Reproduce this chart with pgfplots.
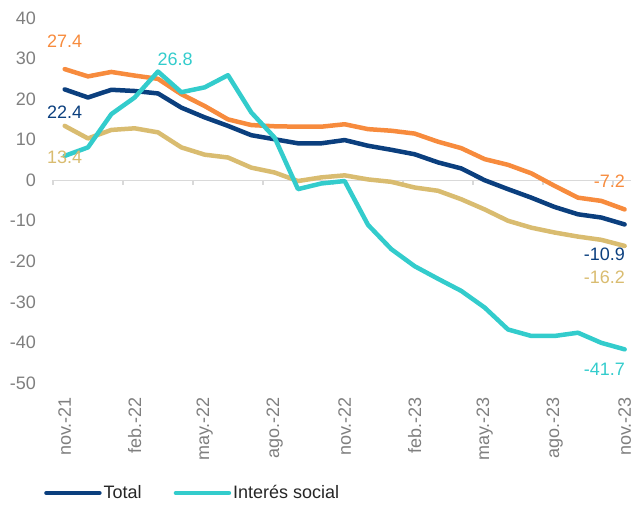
\documentclass[border=0pt]{standalone}
\usepackage{pgfplots}
\pgfplotsset{compat=1.18}
\usepackage{fontspec}
\setmainfont{Liberation Sans}
\definecolor{cnavy}{HTML}{0B3F7E}
\definecolor{cteal}{HTML}{33CCCC}
\definecolor{corange}{HTML}{F78B3D}
\definecolor{ctan}{HTML}{D9BC70}
\definecolor{ctick}{HTML}{7F7F7F}
\definecolor{czero}{HTML}{D9D9D9}
\begin{document}
\begin{tikzpicture}[font=\fontsize{18bp}{21bp}\selectfont]
\path[use as bounding box] (-53bp,-123bp) rectangle (578bp,383bp);
\begin{axis}[
  scale only axis, width=583.3bp, height=365bp,
  at={(0,0)}, anchor=south west,
  xmin=-0.5, xmax=24.5, ymin=-50, ymax=40,
  clip=false,
  axis line style={draw=none},
  major tick length=0pt,
  xtick pos=bottom, ytick pos=left,
  xtick={0,3,...,24},
  xticklabels={nov.-21,feb.-22,may.-22,ago.-22,nov.-22,feb.-23,may.-23,ago.-23,nov.-23},
  ytick={-50,-40,...,40},
  /pgf/number format/assume math mode=true,
  tick label style={font=\fontsize{18bp}{21bp}\selectfont, text=ctick, inner sep=0pt},
  yticklabel style={anchor=east},
  xticklabel style={rotate=90, anchor=east},
  yticklabel shift=17bp,
  xticklabel shift=14bp,
  legend columns=2,
  legend style={at={(0,0)}, anchor=west, xshift=-9bp, yshift=-110bp,
    draw=none, fill=none, inner sep=0pt,
    font=\fontsize{18bp}{21bp}\selectfont, text=black!85,
    nodes={inner sep=2bp},
    /tikz/every even column/.append style={column sep=30bp}},
  legend image code/.code={\draw[#1, line width=4.5bp] (0bp,0bp) -- (53bp,0bp);},
  every axis plot/.append style={line width=4.5bp, line join=round, line cap=round, no markers},
]
\draw[czero, line width=1.3bp] (axis cs:-0.5,0) -- (axis cs:24.5,0);
\pgfplotsinvokeforeach{-0.5,2.5,5.5,8.5,11.5,14.5,17.5,20.5,23.5}{
  \draw[czero, line width=1.3bp] (axis cs:#1,0) -- ++(0bp,-5bp);
}
\addplot[corange, forget plot] coordinates {
(0,27.4) (1,25.6) (2,26.7) (3,25.8) (4,25.0) (5,21.2) (6,18.3) (7,15.0) (8,13.6) (9,13.3)
(10,13.2) (11,13.2) (12,13.8) (13,12.6) (14,12.2) (15,11.5) (16,9.5) (17,7.9) (18,5.2) (19,3.8)
(20,1.7) (21,-1.4) (22,-4.3) (23,-5.1) (24,-7.2)};
\addplot[ctan, forget plot] coordinates {
(0,13.4) (1,10.3) (2,12.4) (3,12.8) (4,11.8) (5,8.1) (6,6.3) (7,5.6) (8,3.1) (9,1.9)
(10,-0.2) (11,0.7) (12,1.2) (13,0.2) (14,-0.4) (15,-1.8) (16,-2.6) (17,-4.7) (18,-7.2) (19,-10.0)
(20,-11.7) (21,-12.9) (22,-13.9) (23,-14.7) (24,-16.2)};
\addplot[cnavy] coordinates {
(0,22.4) (1,20.4) (2,22.3) (3,22.0) (4,21.4) (5,17.9) (6,15.5) (7,13.4) (8,11.1) (9,10.1)
(10,9.1) (11,9.1) (12,9.9) (13,8.5) (14,7.5) (15,6.4) (16,4.4) (17,2.9) (18,0.0) (19,-2.2)
(20,-4.3) (21,-6.6) (22,-8.4) (23,-9.2) (24,-10.9)};
\addlegendentry{Total}
\addplot[cteal] coordinates {
(0,6.0) (1,8.1) (2,16.3) (3,20.4) (4,26.8) (5,21.7) (6,22.9) (7,25.9) (8,16.7) (9,10.5)
(10,-2.2) (11,-0.8) (12,-0.2) (13,-11.0) (14,-17.0) (15,-21.2) (16,-24.3) (17,-27.3) (18,-31.4) (19,-36.8)
(20,-38.4) (21,-38.4) (22,-37.6) (23,-40.1) (24,-41.7)};
\addlegendentry{Interés social}
\node[text=corange] at (axis cs:0,34.3) {27.4};
\node[text=cnavy] at (axis cs:0,16.8) {22.4};
\node[text=ctan] at (axis cs:0,5.7) {13.4};
\node[text=cteal] at (axis cs:4.73,29.9) {26.8};
\node[text=corange, anchor=east, inner sep=0pt] at (axis cs:24.02,-0.25) {-7.2};
\node[text=cnavy, anchor=east, inner sep=0pt] at (axis cs:24.02,-18.3) {-10.9};
\node[text=ctan, anchor=east, inner sep=0pt] at (axis cs:24.02,-23.9) {-16.2};
\node[text=cteal, anchor=east, inner sep=0pt] at (axis cs:24.02,-46.7) {-41.7};
\end{axis}
\end{tikzpicture}
\end{document}
